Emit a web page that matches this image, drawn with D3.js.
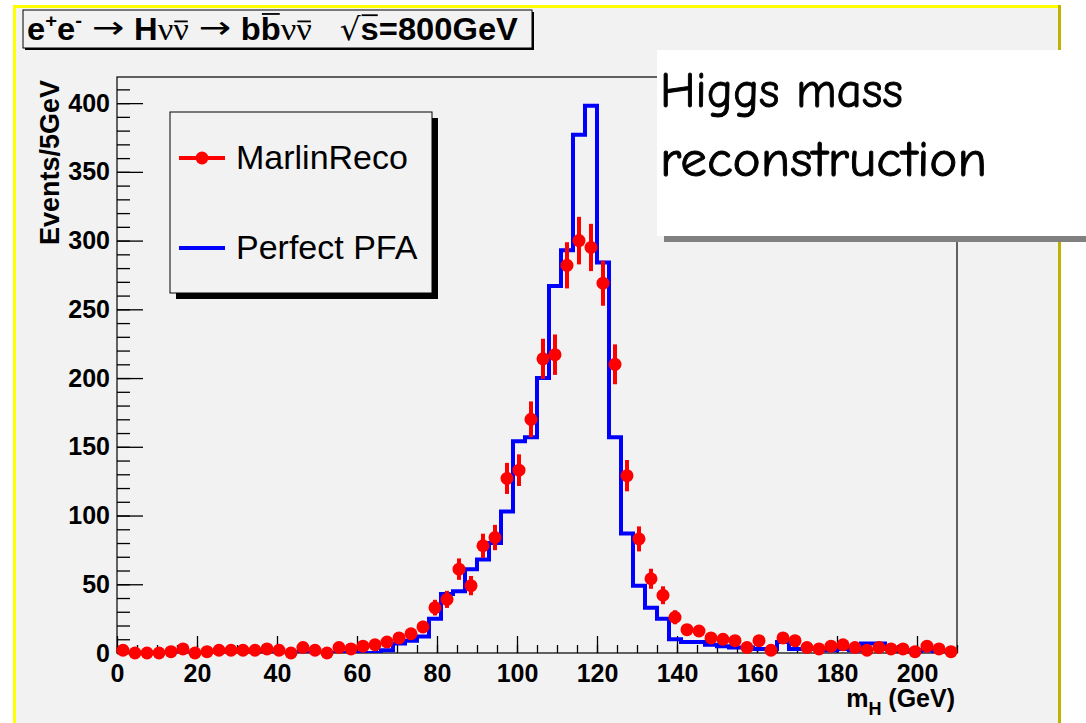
<!DOCTYPE html>
<html>
<head>
<meta charset="utf-8">
<script src="https://cdn.jsdelivr.net/npm/d3@7"></script>
<style>
  body { margin: 0; background: #fff; }
  svg { display: block; }
</style>
</head>
<body>
<svg id="chart" width="1086" height="723"></svg>
<script>
// histogram binning (GeV)
const binWidth = 3;
const xRange = [0, 210];

// MarlinReco, events per bin
const marlinReco = [
  2, 0, 0, 0, 1, 3, 0, 1, 2, 2,
  2, 2, 3, 2, 0, 4, 2, 0, 4, 3,
  5, 6, 8, 11, 14, 19, 33, 39, 61, 49,
  78, 84, 127, 133, 170, 214, 217, 282, 300, 295,
  269, 210, 129, 83, 54, 42, 26, 17, 16, 11,
  10, 9, 4, 9, 2, 11, 9, 4, 3, 5,
  6, 4, 2, 4, 3, 3, 1, 5, 3, 1
];
// MarlinReco error bars
const marlinErr = [
  1.4, 0, 0, 0, 1, 1.7, 0, 1, 1.4, 1.4,
  1.4, 1.4, 1.7, 1.4, 0, 2, 1.4, 0, 2, 1.7,
  2.2, 2.4, 2.8, 3.3, 3.7, 4.4, 5.7, 6.2, 7.8, 7,
  8.8, 9.2, 11.3, 11.5, 13, 14.6, 14.7, 16.8, 17.3, 17.2,
  16.4, 14.5, 11.4, 9.1, 7.3, 6.5, 5.1, 4.1, 4, 3.3,
  3.2, 3, 2, 3, 1.4, 3.3, 3, 2, 1.7, 2.2,
  2.4, 2, 1.4, 2, 1.7, 1.7, 1, 2.2, 1.7, 1
];
// Perfect PFA, events per bin
const perfectPFA = [
  0, 0, 0, 0, 0, 0, 0, 0, 0, 0,
  0, 0, 0, 0, 0, 0, 0, 0, 0, 0,
  0, 0, 2, 7, 9, 12, 25, 43, 45, 61,
  68, 80, 103, 154, 157, 200, 267, 293, 377, 398,
  284, 157, 87, 49, 33, 25, 10, 8, 8, 6,
  5, 4, 4, 3, 3, 8, 3, 3, 3, 2,
  3, 2, 7, 7, 3, 2, 1, 2, 1, 1
];

const xMajorTicks = [0, 20, 40, 60, 80, 100, 120, 140, 160, 180, 200];
const yMajorTicks = [0, 50, 100, 150, 200, 250, 300, 350, 400];
const xMinorStep = 5;
const yMinorStep = 10;
const yMax = 419;

const legendLabels = ["MarlinReco", "Perfect PFA"];
const noteLines = ["Higgs mass", "reconstruction"];
const yTitle = "Events/5GeV";

const W = 1086, H = 723;
const frame = { left: 117, right: 957, top: 77, bottom: 653 };
const sans = "'Liberation Sans', Arial, Helvetica, sans-serif";
const serif = "'Liberation Serif', 'Times New Roman', serif";
const padColor = "#f2f2f2";

const svg = d3.select("#chart");

// page, pad and the yellow/olive border of the canvas
svg.append("rect").attr("width", W).attr("height", H).attr("fill", "#fff");
svg.append("rect").attr("x", 16).attr("y", 8).attr("width", 1042).attr("height", H - 8).attr("fill", padColor);
svg.append("rect").attr("x", 13).attr("y", 5).attr("width", 1046).attr("height", 3).attr("fill", "#ffff00");
svg.append("rect").attr("x", 13).attr("y", 5).attr("width", 3).attr("height", H - 5).attr("fill", "#ffff00");
svg.append("rect").attr("x", 1058).attr("y", 5).attr("width", 3).attr("height", H - 5).attr("fill", "#bdb300");

// scales
const x = d3.scaleLinear().domain(xRange).range([frame.left, frame.right]);
const y = d3.scaleLinear().domain([0, yMax]).range([frame.bottom, frame.top]);

// frame
svg.append("rect")
    .attr("x", frame.left).attr("y", frame.top)
    .attr("width", frame.right - frame.left).attr("height", frame.bottom - frame.top)
    .attr("fill", "none").attr("stroke", "#000").attr("stroke-width", 1.2);

// axes, ticks drawn inside the frame like ROOT does
const styleAxis = g => {
    g.select(".domain").remove();
    g.selectAll("line").attr("stroke", "#000").attr("stroke-width", 1.3);
    g.selectAll("text").attr("fill", "#000");
    g.attr("font-family", sans).attr("font-size", 25).attr("font-weight", "bold");
};

svg.append("g")
    .attr("transform", `translate(${frame.left},0)`)
    .call(d3.axisLeft(y).tickValues(d3.range(0, yMax, yMinorStep)).tickSize(-13).tickFormat(""))
    .call(styleAxis);
svg.append("g")
    .attr("transform", `translate(${frame.left},0)`)
    .call(d3.axisLeft(y).tickValues(yMajorTicks).tickSize(-26).tickPadding(7).tickFormat(d3.format("d")))
    .call(styleAxis);

svg.append("g")
    .attr("transform", `translate(0,${frame.bottom})`)
    .call(d3.axisBottom(x).tickValues(d3.range(xRange[0], xRange[1] + 0.1, xMinorStep)).tickSize(-8).tickFormat(""))
    .call(styleAxis);
svg.append("g")
    .attr("transform", `translate(0,${frame.bottom})`)
    .call(d3.axisBottom(x).tickValues(xMajorTicks).tickSize(-17).tickPadding(11).tickFormat(d3.format("d")))
    .call(styleAxis);

// axis titles
svg.append("text")
    .attr("transform", `translate(59,80) rotate(-90)`)
    .attr("text-anchor", "end")
    .attr("font-family", sans).attr("font-size", 27).attr("font-weight", "bold")
    .attr("textLength", 165).attr("lengthAdjust", "spacingAndGlyphs")
    .text(yTitle);

const xt = svg.append("text")
    .attr("x", 955).attr("y", 707)
    .attr("text-anchor", "end")
    .attr("font-family", sans).attr("font-size", 25).attr("font-weight", "bold");
xt.append("tspan").text("m");
xt.append("tspan").attr("font-size", 18).attr("dy", 8).text("H");
xt.append("tspan").attr("dy", -8).text("\u00a0(GeV)");

// clip for the outline histogram
svg.append("clipPath").attr("id", "frameClip")
  .append("rect")
    .attr("x", frame.left).attr("y", frame.top)
    .attr("width", frame.right - frame.left).attr("height", frame.bottom - frame.top);

// Perfect PFA as a step outline
const steps = [{ e: xRange[0], v: 0 }]
    .concat(perfectPFA.map((v, i) => ({ e: xRange[0] + i * binWidth, v })))
    .concat([{ e: xRange[1], v: perfectPFA[perfectPFA.length - 1] }, { e: xRange[1], v: 0 }]);

const stepLine = d3.line()
    .x(d => x(d.e))
    .y(d => y(d.v))
    .curve(d3.curveStepAfter);

svg.append("path")
    .datum(steps)
    .attr("clip-path", "url(#frameClip)")
    .attr("fill", "none")
    .attr("stroke", "#0000ff")
    .attr("stroke-width", 4)
    .attr("d", stepLine);

// MarlinReco points with error bars
const bins = marlinReco.map((v, i) => ({
    lo: xRange[0] + i * binWidth,
    hi: xRange[0] + (i + 1) * binWidth,
    c: xRange[0] + (i + 0.5) * binWidth,
    v,
    err: marlinErr[i]
}));

const reco = svg.append("g").attr("fill", "#ff0000").attr("stroke", "#ff0000");
reco.selectAll("line.ex")
    .data(bins)
    .join("line")
    .attr("class", "ex")
    .attr("x1", d => x(d.lo)).attr("x2", d => x(d.hi))
    .attr("y1", d => y(d.v)).attr("y2", d => y(d.v))
    .attr("stroke-width", 2);
reco.selectAll("line.ey")
    .data(bins.filter(d => d.err > 0))
    .join("line")
    .attr("class", "ey")
    .attr("x1", d => x(d.c)).attr("x2", d => x(d.c))
    .attr("y1", d => y(d.v - d.err)).attr("y2", d => y(d.v + d.err))
    .attr("stroke-width", 4);
reco.selectAll("circle")
    .data(bins)
    .join("circle")
    .attr("cx", d => x(d.c))
    .attr("cy", d => y(d.v))
    .attr("r", 6.5)
    .attr("stroke", "none");

// title pave
const tb = { x: 23, y: 10, w: 509, h: 38 };
svg.append("rect").attr("x", tb.x + 2).attr("y", tb.y + 2).attr("width", tb.w).attr("height", tb.h).attr("fill", "#000");
svg.append("rect").attr("x", tb.x).attr("y", tb.y).attr("width", tb.w).attr("height", tb.h)
    .attr("fill", padColor).attr("stroke", "#000").attr("stroke-width", 1);

// title laid out piece by piece (ROOT latex style), then fitted to the pave
const F = 31;
const titleRuns = [
    { t: "e", b: true }, { t: "+", b: true, sup: true },
    { t: "e", b: true }, { t: "-", b: true, sup: true },
    { gap: 0.3 }, { t: "\u2192", arrow: true }, { gap: 0.3 },
    { t: "H", b: true },
    { t: "\u03bd", greek: true }, { t: "\u03bd", greek: true, bar: 0.6 },
    { gap: 0.3 }, { t: "\u2192", arrow: true }, { gap: 0.3 },
    { t: "b", b: true }, { t: "b", b: true, bar: 0.84 },
    { t: "\u03bd", greek: true }, { t: "\u03bd", greek: true, bar: 0.6 },
    { gap: 0.85 },
    { t: "\u221a", root: true },
    { t: "s", b: true, bar: 0.8 },
    { t: "=800GeV", b: true }
];
const titleG = svg.append("g");
let cx = 0;
titleRuns.forEach(r => {
    if (r.gap) { cx += r.gap * F; return; }
    const t = titleG.append("text")
        .attr("x", cx)
        .attr("y", r.sup ? -0.42 * F : (r.arrow ? -0.05 * F : 0))
        .attr("font-family", r.greek ? serif : (r.arrow || r.root ? "'DejaVu Sans', sans-serif" : sans))
        .attr("font-size", r.sup ? 0.62 * F : (r.greek ? 1.05 * F : F))
        .attr("font-weight", r.b ? "bold" : "normal")
        .text(r.t);
    if (r.arrow) t.attr("textLength", 0.99 * F).attr("lengthAdjust", "spacingAndGlyphs");
    const w = r.arrow ? 0.99 * F : t.node().getComputedTextLength();
    if (r.bar) {
        titleG.append("line")
            .attr("x1", cx + 1).attr("x2", cx + w - 1)
            .attr("y1", -r.bar * F).attr("y2", -r.bar * F)
            .attr("stroke", "#000").attr("stroke-width", 1.8);
    }
    cx += w;
});
titleG.attr("transform", `translate(27,40) scale(${491 / cx},1)`);

// legend
const lg = { x: 170, y: 112, w: 262, h: 181 };
svg.append("rect").attr("x", lg.x + 6).attr("y", lg.y + 6).attr("width", lg.w).attr("height", lg.h).attr("fill", "#000");
svg.append("rect").attr("x", lg.x).attr("y", lg.y).attr("width", lg.w).attr("height", lg.h)
    .attr("fill", padColor).attr("stroke", "#000").attr("stroke-width", 1);

const legendRows = [
    { label: legendLabels[0], color: "#ff0000", marker: true, cy: 158 },
    { label: legendLabels[1], color: "#0000ff", marker: false, cy: 248 }
];
const lrow = svg.append("g").selectAll("g").data(legendRows).join("g");
lrow.append("line")
    .attr("x1", 179).attr("x2", 225)
    .attr("y1", d => d.cy).attr("y2", d => d.cy)
    .attr("stroke", d => d.color).attr("stroke-width", 4);
lrow.filter(d => d.marker).append("circle")
    .attr("cx", 202).attr("cy", d => d.cy).attr("r", 6.5).attr("fill", d => d.color);
lrow.append("text")
    .attr("x", 236).attr("y", d => d.cy + 11)
    .attr("font-family", sans).attr("font-size", 34)
    .text(d => d.label);

// overlay note
svg.append("rect").attr("x", 664).attr("y", 236).attr("width", W - 664).attr("height", 6).attr("fill", "#808080");
svg.append("rect").attr("x", 657).attr("y", 50).attr("width", W - 657).attr("height", 186).attr("fill", "#fff");
svg.append("g").selectAll("text").data(noteLines).join("text")
    .attr("x", 660)
    .attr("y", (d, i) => 107 + i * 69)
    .attr("font-family", "'Comic Sans MS', 'Comic Neue', 'DejaVu Sans', sans-serif")
    .attr("font-size", 50)
    .attr("fill", "#000")
    .attr("stroke", "#000")
    .attr("stroke-width", 0.9)
    .attr("textLength", (d, i) => i === 0 ? 243 : 327)
    .attr("lengthAdjust", "spacingAndGlyphs")
    .text(d => d);
</script>
</body>
</html>
